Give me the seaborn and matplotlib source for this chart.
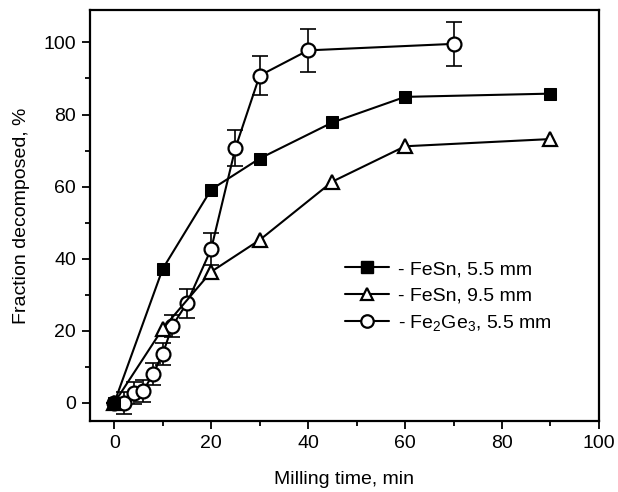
import numpy as np
import pandas as pd
import matplotlib
matplotlib.use('Agg')
import matplotlib.pyplot as plt
import seaborn as sns
from matplotlib.lines import Line2D
from matplotlib.ticker import MultipleLocator

# FeSn, 5.5 mm balls
fesn55_time = [0, 10, 20, 30, 45, 60, 90]
fesn55_frac = [0, 37.2, 59.2, 67.8, 77.8, 84.9, 85.8]

# FeSn, 9.5 mm balls
fesn95_time = [0, 10, 20, 30, 45, 60, 90]
fesn95_frac = [0, 20.6, 36.4, 45.2, 61.4, 71.2, 73.2]

# Fe2Ge3, 5.5 mm balls (with error bars)
fege_time = [0, 2, 4, 6, 8, 10, 12, 15, 20, 25, 30, 40, 70]
fege_frac = [0, 0, 2.7, 3.4, 8.0, 13.6, 21.4, 27.7, 42.7, 70.7, 90.8, 97.8, 99.6]
fege_err = [0, 3, 3, 3, 3, 3, 3, 4, 4.5, 5, 5.3, 6, 6]

labels = ['- FeSn, 5.5 mm', '- FeSn, 9.5 mm', '- Fe$_2$Ge$_3$, 5.5 mm']

sns.set_style('ticks')
plt.rcParams['font.family'] = ['Liberation Sans', 'DejaVu Sans']
plt.rcParams['mathtext.fontset'] = 'custom'
plt.rcParams['mathtext.rm'] = 'Liberation Sans'
plt.rcParams['mathtext.it'] = 'Liberation Sans'
plt.rcParams['text.color'] = 'black'
plt.rcParams['axes.labelcolor'] = 'black'
plt.rcParams['xtick.color'] = 'black'
plt.rcParams['ytick.color'] = 'black'

fig = plt.figure(figsize=(6.18, 4.92), dpi=100)
ax = fig.add_axes([0.1456, 0.1443, 0.8236, 0.8354])

df55 = pd.DataFrame({'t': fesn55_time, 'f': fesn55_frac})
df95 = pd.DataFrame({'t': fesn95_time, 'f': fesn95_frac})
dfge = pd.DataFrame({'t': fege_time, 'f': fege_frac, 'e': fege_err})

ax.errorbar(dfge['t'], dfge['f'], yerr=dfge['e'], fmt='none', ecolor='black',
            elinewidth=1.2, capsize=6, capthick=1.2, zorder=2)

sns.lineplot(data=dfge, x='t', y='f', ax=ax, color='black', lw=1.5, sort=False,
             marker='o', markersize=10, markerfacecolor='white',
             markeredgecolor='black', markeredgewidth=1.6, zorder=3)
sns.lineplot(data=df95, x='t', y='f', ax=ax, color='black', lw=1.5, sort=False,
             marker='^', markersize=10, markerfacecolor='white',
             markeredgecolor='black', markeredgewidth=1.6, zorder=4)
sns.lineplot(data=df55, x='t', y='f', ax=ax, color='black', lw=1.5, sort=False,
             marker='s', markersize=9, markerfacecolor='black',
             markeredgecolor='black', zorder=5)

ax.set_xlim(-5, 100)
ax.set_ylim(-5, 109)
ax.xaxis.set_major_locator(MultipleLocator(20))
ax.xaxis.set_minor_locator(MultipleLocator(10))
ax.yaxis.set_major_locator(MultipleLocator(20))
ax.yaxis.set_minor_locator(MultipleLocator(10))
ax.tick_params(which='major', direction='out', length=6, width=1.3,
               labelsize=14, colors='black', pad=4)
ax.tick_params(which='minor', direction='out', length=3.5, width=1.3)
for s in ax.spines.values():
    s.set_linewidth(1.6)
    s.set_color('black')

ax.set_xlabel('Milling time, min', fontsize=14, labelpad=14)
ax.set_ylabel('Fraction decomposed, %', fontsize=14, labelpad=10)

handles = [
    Line2D([], [], color='black', lw=1.5, marker='s', markersize=8,
           markerfacecolor='black'),
    Line2D([], [], color='black', lw=1.5, marker='^', markersize=9,
           markerfacecolor='white', markeredgewidth=1.6),
    Line2D([], [], color='black', lw=1.5, marker='o', markersize=9,
           markerfacecolor='white', markeredgewidth=1.6),
]
ax.legend(handles, labels, loc='center left', bbox_to_anchor=(0.485, 0.302),
          frameon=False, fontsize=14, handlelength=2.3, handletextpad=0.45,
          labelspacing=0.45, numpoints=1, borderaxespad=0)

fig.savefig('out.png', dpi=100)
